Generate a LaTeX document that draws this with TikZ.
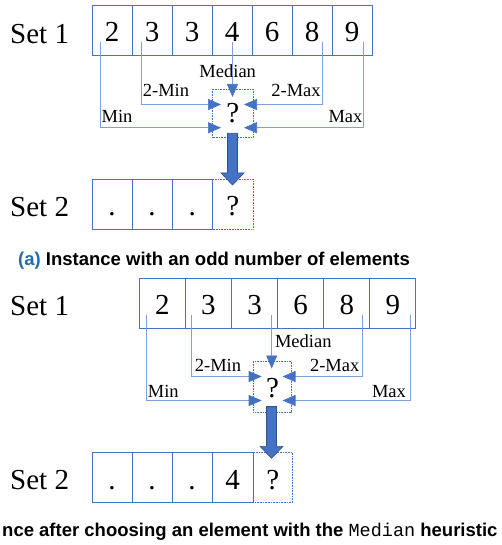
\documentclass[tikz,border=0pt]{standalone}
\usepackage{fontspec}
\setmainfont{Liberation Serif}
\setmonofont{Liberation Mono}
\newfontfamily\capfont{Liberation Sans}
\usetikzlibrary{arrows.meta,calc}
\definecolor{cellblue}{HTML}{4472C4}
\definecolor{linkblue}{HTML}{7FA0DA}
\definecolor{arrowdark}{HTML}{2F528F}
\definecolor{capblue}{HTML}{1F6FB0}
\newcommand\blockarrow[2]{%
  \filldraw[bigarrow] ($(#1)+(-5,0)$) -- ($(#1)+(5,0)$) -- ($(#2)+(5,-12)$) -- ($(#2)+(11.5,-12)$) -- (#2) -- ($(#2)+(-11.5,-12)$) -- ($(#2)+(-5,-12)$) -- cycle;}
\begin{document}
\begin{tikzpicture}[x=1pt,y=-1pt,
  cell/.style={draw=cellblue, line width=0.9pt, minimum height=50pt, inner sep=0pt, outer sep=0pt, anchor=north west, text height=23pt, text depth=0pt, font=\fontsize{29}{29}\selectfont},
  dotcell/.style={cell, line width=0.6pt, dash pattern=on 0.8pt off 0.8pt},
  setlabel/.style={anchor=base west, inner sep=0pt, font=\fontsize{29}{29}\selectfont},
  conn/.style={draw=linkblue, line width=0.7pt, -{Triangle[length=13pt,width=11pt,color=cellblue]}},
  plainconn/.style={draw=linkblue, line width=0.7pt},
  heur/.style={anchor=base, inner sep=0pt, font=\fontsize{18.5}{18.5}\selectfont},
  bigarrow/.style={fill=cellblue, draw=arrowdark, line width=0.6pt},
  caption/.style={anchor=base, inner sep=0pt, font=\capfont\bfseries\fontsize{18.5}{18.5}\selectfont}
]
\useasboundingbox (0,0) rectangle (501,545);

% ================= panel (a) =================
\node[setlabel] (s1a) at (10,43.3) {Set 1};
\node[cell, minimum width=40pt] (a1) at (92,5) {2};
\node[cell, minimum width=40pt] (a2) at (132,5) {3};
\node[cell, minimum width=40pt] (a3) at (172,5) {3};
\node[cell, minimum width=40pt] (a4) at (212,5) {4};
\node[cell, minimum width=40pt] (a5) at (252,5) {6};
\node[cell, minimum width=40pt] (a6) at (292,5) {8};
\node[cell, minimum width=40pt] (a7) at (332,5) {9};

\node[dotcell, minimum width=40.5pt, minimum height=48.5pt, text height=18pt] (qa) at (212.5,89) {?};

\coordinate (aMinS) at (100.7,42);
\coordinate (aTMinS) at (141.7,42);
\coordinate (aMedS) at (232.5,42);
\coordinate (aTMaxS) at (322.7,42);
\coordinate (aMaxS) at (363.3,42);
\coordinate (aMinT) at (221,127.7);
\coordinate (aTMinT) at (221,104.5);
\coordinate (aMedT) at (232.5,97);
\coordinate (aTMaxT) at (244,104.5);
\coordinate (aMaxT) at (244,127.7);

\draw[conn] (aMinS) |- (aMinT);
\draw[conn] (aTMinS) |- (aTMinT);
\draw[conn] (aMedS) -- (aMedT);
\draw[conn] (aTMaxS) |- (aTMaxT);
\draw[conn] (aMaxS) |- (aMaxT);

\node[heur] (laMed) at (227.7,77.3) {Median};
\node[heur] (laTMin) at (166,97) {2-Min};
\node[heur] (laTMax) at (296,97) {2-Max};
\node[heur] (laMin) at (117,122.5) {Min};
\node[heur] (laMax) at (345.5,122.5) {Max};

\node[setlabel] (s2a) at (10,216) {Set 2};
\node[dotcell, minimum width=40.5pt] (b4) at (212.5,179.3) {?};
\node[cell, minimum width=40pt] (b1) at (92,179.3) {.};
\node[cell, minimum width=40pt] (b2) at (132,179.3) {.};
\node[cell, minimum width=40.5pt] (b3) at (172,179.3) {.};

\coordinate (bigAS) at (232.5,133.3);
\coordinate (bigAT) at (232.5,185);
\blockarrow{bigAS}{bigAT}

\node[caption] (capA) at (214,265.5) {\textcolor{capblue}{(a)} Instance with an odd number of elements};

% ================= panel (b) =================
\node[setlabel] (s1b) at (10,315) {Set 1};
\node[cell, minimum width=46.1pt] (c1) at (139.3,278.3) {2};
\node[cell, minimum width=46.1pt] (c2) at (185.4,278.3) {3};
\node[cell, minimum width=46.1pt] (c3) at (231.5,278.3) {3};
\node[cell, minimum width=46.1pt] (c4) at (277.6,278.3) {6};
\node[cell, minimum width=46.1pt] (c5) at (323.7,278.3) {8};
\node[cell, minimum width=46.1pt] (c6) at (369.8,278.3) {9};

\node[dotcell, minimum width=38.4pt, minimum height=50.5pt, text height=21.5pt] (qb) at (253.3,361.5) {?};

\coordinate (bMinS) at (146,314.5);
\coordinate (bTMinS) at (191.7,314.5);
\coordinate (bMedS) at (271.7,314.5);
\coordinate (bTMaxS) at (362.7,314.5);
\coordinate (bMaxS) at (410,314.5);
\coordinate (bMinT) at (261.7,400.5);
\coordinate (bTMinT) at (261.7,376.5);
\coordinate (bMedT) at (271.7,368.5);
\coordinate (bTMaxT) at (282.5,376.5);
\coordinate (bMaxT) at (282.5,400.5);

\draw[conn] (bMinS) |- (bMinT);
\draw[conn] (bTMinS) |- (bTMinT);
\draw[conn] (bMedS) -- (bMedT);
\draw[conn] (bTMaxS) |- (bTMaxT);
\draw[conn] (bMaxS) |- (bMaxT);

\node[heur] (lbMed) at (303.3,347.3) {Median};
\node[heur] (lbTMin) at (218,371.7) {2-Min};
\node[heur] (lbTMax) at (334.7,371.7) {2-Max};
\node[heur] (lbMin) at (163.3,397.7) {Min};
\node[heur] (lbMax) at (389,397.7) {Max};

\node[setlabel] (s2b) at (10,489.3) {Set 2};
\node[dotcell, minimum width=39pt] (d5) at (253.3,452.5) {?};
\node[cell, minimum width=40pt] (d1) at (92,452.5) {.};
\node[cell, minimum width=40pt] (d2) at (132,452.5) {.};
\node[cell, minimum width=40pt] (d3) at (172,452.5) {.};
\node[cell, minimum width=41.3pt] (d4) at (212,452.5) {4};

\coordinate (bigBS) at (271.5,406.5);
\coordinate (bigBT) at (271.5,458.3);
\blockarrow{bigBS}{bigBT}

\node[caption, anchor=base west] (capB) at (2,536.5) {nce after choosing an element with the {\mdseries\ttfamily Median} heuristic};
\end{tikzpicture}
\end{document}
